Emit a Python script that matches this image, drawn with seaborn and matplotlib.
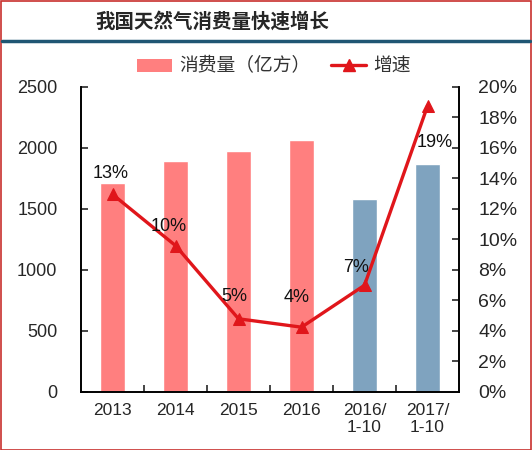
import numpy as np
import pandas as pd
import matplotlib
matplotlib.use('Agg')
import matplotlib.pyplot as plt
import seaborn as sns
from matplotlib.lines import Line2D
from matplotlib.patches import Patch, Rectangle

# 数据
categories = ['2013', '2014', '2015', '2016', '2016/\n1-10', '2017/\n1-10']
consumption = [1710, 1890, 1975, 2065, 1580, 1870]   # 消费量（亿方）
growth = [12.96, 9.6, 4.8, 4.25, 7.0, 18.75]          # 增速 %
growth_labels = ['13%', '10%', '5%', '4%', '7%', '19%']
bar_colors = ['#FF7F7F', '#FF7F7F', '#FF7F7F', '#FF7F7F', '#7FA3BF', '#7FA3BF']

sns.set_style('white')
plt.rcParams['font.family'] = ['Liberation Sans', 'Noto Sans CJK SC', 'DejaVu Sans']
plt.rcParams['axes.unicode_minus'] = False

df = pd.DataFrame({'cat': categories, 'val': consumption, 'g': growth})

fig = plt.figure(figsize=(5.32, 4.5), dpi=100)
ax = fig.add_axes([0.1523, 0.1289, 0.7105, 0.6778])

sns.barplot(data=df, x='cat', y='val', hue='cat', palette=bar_colors,
            width=0.4, legend=False, saturation=1, ax=ax)
ax.set_xlim(-0.5, 5.5)
ax.set_ylim(0, 2500)
ax.set_yticks(np.arange(0, 2501, 500))
ax.set_xlabel('')
ax.set_ylabel('')

ax2 = ax.twinx()
sns.lineplot(x=np.arange(len(growth)), y=growth, color='#E0161B', lw=2.4,
             marker='^', markersize=8, markeredgecolor='#E0161B', ax=ax2)
ax2.set_ylim(0, 20)
ax2.set_yticks(np.arange(0, 21, 2))
ax2.set_yticklabels([f'{v}%' for v in range(0, 21, 2)])

# 数据标签
label_offsets = [(-2, 21), (-7, 19), (-4, 22), (-5, 30), (-8, 18), (7, -36)]
for i, (g, lab) in enumerate(zip(growth, growth_labels)):
    ax2.annotate(lab, (i, g), xytext=label_offsets[i], textcoords='offset pixels',
                 ha='center', va='center', fontsize=13, color='#111111')

# 坐标轴样式
for a in (ax, ax2):
    a.spines['top'].set_visible(False)
    for s in ('left', 'right', 'bottom'):
        a.spines[s].set_color('black')
        a.spines[s].set_linewidth(1.2)
ax.tick_params(axis='y', direction='in', length=5, width=1.2, pad=17, labelsize=13, left=True)
ax2.tick_params(axis='y', direction='in', length=5, width=1.2, pad=14, labelsize=14, right=True)
ax.set_xticks(np.arange(len(categories)))
ax.set_xticklabels(categories, fontsize=12.5, linespacing=1.15)
ax.set_xticks(np.arange(0.5, 5, 1), minor=True)
ax.tick_params(axis='x', which='major', length=0, pad=8)
ax.tick_params(axis='x', which='minor', direction='in', length=5, width=1.2, bottom=True)
ax.grid(False)
ax2.grid(False)

# 图例
handles = [Patch(facecolor='#FF7F7F', edgecolor='none', label='消费量（亿方）'),
           Line2D([0], [0], color='#E0161B', lw=2.4, marker='^', markersize=8, label='增速')]
fig.legend(handles=handles, loc='center', bbox_to_anchor=(0.515, 0.853), ncol=2,
           frameon=False, handlelength=1.85, columnspacing=1.1,
           handletextpad=0.4, labelcolor='#333333',
           prop={'family': ['Noto Sans CJK SC'], 'size': 13.5})

# 标题与装饰线
fig.text(0.40, 0.951, '我国天然气消费量快速增长', ha='center', va='center',
         fontsize=14, fontweight='bold', family=['Noto Sans CJK SC'])
fig.add_artist(Line2D([0.004, 0.996], [0.909, 0.909], color='#1F5673', lw=2.5,
                      transform=fig.transFigure))
fig.add_artist(Rectangle((0.001, 0.001), 0.997, 0.997, transform=fig.transFigure,
                         fill=False, edgecolor='#C8302E', lw=1.2))

fig.savefig('out.png', dpi=100)
